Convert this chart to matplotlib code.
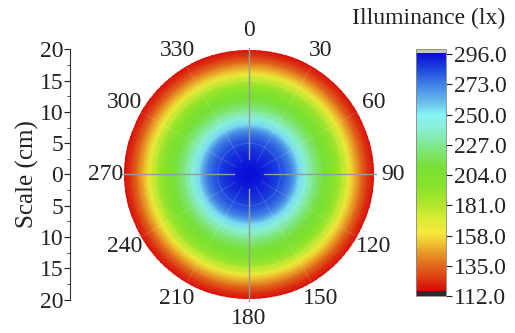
import numpy as np
import matplotlib
matplotlib.use("Agg")
import matplotlib.pyplot as plt
from matplotlib.colors import LinearSegmentedColormap, Normalize
from matplotlib.ticker import MultipleLocator, FuncFormatter

plt.rcParams["font.family"] = ["Liberation Serif", "DejaVu Serif"]
plt.rcParams["font.size"] = 17

# radial profile (radius in cm -> illuminance in lx)
radius_cm = [0, 1, 2, 3, 4, 5, 6, 7, 8, 9, 10, 11, 12, 13, 14, 15, 16, 17, 18, 19, 20]
illuminance = [296, 295, 293, 291, 288, 284, 278, 270, 254, 241, 229, 219, 211, 203,
               193, 180, 164, 148, 135, 124, 117]
theta_labels = ["0", "30", "60", "90", "120", "150", "180", "210", "240", "270", "300", "330"]
scale_ticks = [-20, -15, -10, -5, 0, 5, 10, 15, 20]
cbar_ticks = [112, 135, 158, 181, 204, 227, 250, 273, 296]

vmin, vmax = 112.0, 299.8

# colour stops (value, colour) like the Origin rainbow in the picture
stops = [
    (112.0, "#2a2a2a"), (115.7, "#2a2a2a"), (115.8, "#d80808"),
    (125, "#dd3a14"), (135, "#e0681c"), (145, "#e89a26"), (152, "#efc432"),
    (160, "#f6e83c"), (170, "#dcec34"), (181, "#b4e62c"), (195, "#88e22c"),
    (210, "#78e034"), (227, "#80e890"), (240, "#8aeed8"), (250, "#86f4f4"),
    (258, "#6cc4ee"), (273, "#4080e4"), (285, "#1c44dc"), (296.5, "#0a0ad8"),
    (296.7, "#c4c4cc"), (299.8, "#c4c4cc"),
]
cmap = LinearSegmentedColormap.from_list(
    "origin_rainbow", [((v - vmin) / (vmax - vmin), c) for v, c in stops], N=1024)
norm = Normalize(vmin=vmin, vmax=vmax)

fig = plt.figure(figsize=(5.15, 3.33), dpi=100)

# polar field
ax = fig.add_axes([0.2408, 0.1006, 0.4854, 0.7508], projection="polar")
theta = np.linspace(0, 2 * np.pi, 145)
r = np.array(radius_cm, dtype=float)
T, R = np.meshgrid(theta, r, indexing="ij")
Z = np.tile(np.array(illuminance, dtype=float), (len(theta), 1))
ax.pcolormesh(T, R, Z, cmap=cmap, norm=norm, shading="gouraud")
ax.set_theta_zero_location("N")
ax.set_theta_direction(-1)
ax.set_ylim(0, 20)
ax.set_xticks(np.deg2rad(np.arange(0, 360, 30)))
ax.set_xticklabels(theta_labels)
ax.tick_params(axis="x", pad=3, labelsize=17, colors="#222222")
ax.set_yticks([])
ax.grid(False)
ax.spines["polar"].set_visible(False)

# faint grid, kept away from the centre
circ = np.linspace(0, 2 * np.pi, 200)
for rr in [5, 10, 15]:
    ax.plot(circ, np.full_like(circ, rr), color="white", alpha=0.15, lw=0.7)
for ang in range(30, 360, 30):
    if ang % 90:
        a = np.deg2rad(ang)
        ax.plot([a, a], [2.4, 20], color="white", alpha=0.15, lw=0.7)
for ang in [0, 90, 180, 270]:
    a = np.deg2rad(ang)
    ax.plot([a, a], [2.4, 20.3], color="#9a9a9a", lw=1.0, zorder=3, clip_on=False)

# left scale axis
sax = fig.add_axes([0.136, 0.1006, 0.001, 0.7508])
sax.set_ylim(-20, 20)
sax.set_yticks(scale_ticks)
sax.yaxis.set_major_formatter(FuncFormatter(lambda v, p: f"{abs(v):.0f}"))
sax.yaxis.set_minor_locator(MultipleLocator(2.5))
sax.set_xticks([])
for s in ["top", "right", "bottom"]:
    sax.spines[s].set_visible(False)
sax.spines["left"].set_color("#333333")
sax.tick_params(axis="y", which="major", length=4, labelsize=17, colors="#222222", pad=1)
sax.tick_params(axis="y", which="minor", length=2, colors="#333333")
sax.set_ylabel("Scale (cm)", fontsize=18, color="#222222", labelpad=0)

# colour bar
cax = fig.add_axes([0.8078, 0.1111, 0.0583, 0.7417])
sm = plt.cm.ScalarMappable(norm=norm, cmap=cmap)
cb = fig.colorbar(sm, cax=cax)
cb.set_ticks(cbar_ticks)
cb.set_ticklabels([f"{t:.1f}" for t in cbar_ticks])
cb.outline.set_edgecolor("#888888")
cb.outline.set_linewidth(0.6)
cax.tick_params(length=4, labelsize=17, colors="#222222", pad=2)
fig.text(0.982, 0.945, "Illuminance (lx)", ha="right", va="center", fontsize=17,
         color="#222222")

fig.savefig("out.png", dpi=100)
